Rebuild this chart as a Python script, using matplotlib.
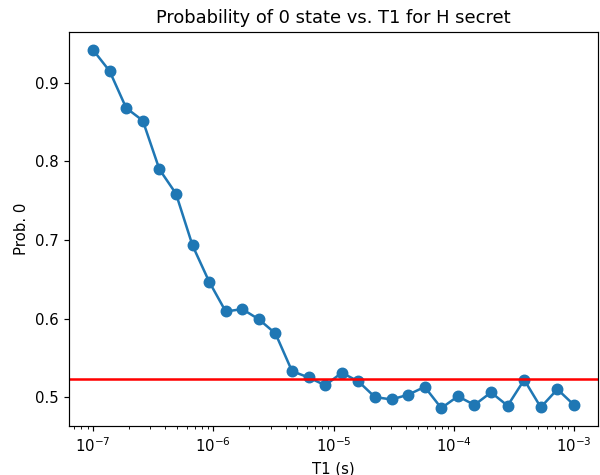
import numpy as np
import matplotlib
matplotlib.use("Agg")
import matplotlib.pyplot as plt

t1_values = np.logspace(-7, -3, 30)
prob0 = [0.942, 0.915, 0.868, 0.852, 0.790, 0.759, 0.693, 0.647, 0.609, 0.612,
         0.599, 0.581, 0.533, 0.525, 0.515, 0.531, 0.520, 0.500, 0.497, 0.503,
         0.513, 0.486, 0.501, 0.490, 0.506, 0.489, 0.522, 0.487, 0.510, 0.490]
threshold = 0.523

DPI = 107
W, H = 600, 475
fig = plt.figure(figsize=(W / DPI, H / DPI), dpi=DPI)
ax = fig.add_axes([69 / W, 1 - 426 / H, (598 - 69) / W, (426 - 32) / H])
ax.plot(t1_values, prob0, marker='o', color='#1f77b4', markersize=7, linewidth=1.7)
ax.axhline(threshold, color='red', linewidth=1.7)
ax.set_xscale('log')
ax.set_xlabel('T1 (s)')
ax.set_ylabel('Prob. 0')
ax.set_title('Probability of 0 state vs. T1 for H secret')
fig.savefig('out.png', dpi=DPI)
